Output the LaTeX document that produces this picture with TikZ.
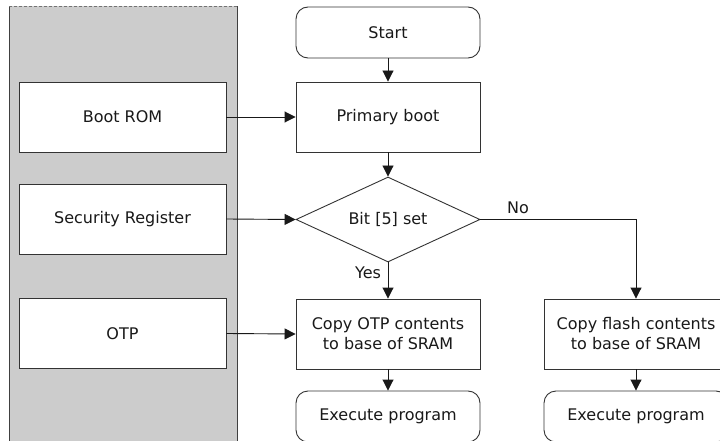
\documentclass[tikz,border=0pt]{standalone}
\usepackage{fontspec}
\setmainfont{DejaVu Sans}
\usetikzlibrary{shapes.geometric,arrows.meta}
\begin{document}
\begin{tikzpicture}[x=1pt,y=-1pt,
  every node/.style={font=\fontsize{16}{20}\selectfont, text=black!90},
  box/.style={draw=black!80, line width=0.9pt, fill=white, minimum width=184pt, minimum height=70pt, inner sep=0pt, align=center},
  srcbox/.style={box, minimum width=207pt},
  term/.style={box, rounded corners=12pt, minimum height=51pt},
  decision/.style={draw=black!80, line width=0.9pt, fill=white, diamond, aspect=2.165, minimum width=184pt, minimum height=85pt, inner sep=0pt},
  conn/.style={draw=black!90, line width=0.9pt, -{Triangle[length=11pt,width=11pt]}},
  lbl/.style={font=\fontsize{16}{20}\selectfont}
]
\useasboundingbox (0,0) rectangle (720,441);
\clip (0,0) rectangle (720,441);
% panel
\fill[black!20] (9,6) rectangle (237,450);
\draw[black!75, line width=0.9pt] (9,450) -- (9,6);
\draw[black!75, line width=0.9pt] (237,450) -- (237,6);
\draw[black!55, line width=0.9pt, dash pattern=on 3pt off 2pt] (9,6) -- (237,6);
% left boxes
\node[srcbox] (bootrom) at (122.5,117) {Boot ROM};
\node[srcbox] (secreg) at (122.5,219) {Security Register};
\node[srcbox] (otp) at (122.5,333.5) {OTP};
% main flow
\node[term] (start) at (388,32.5) {Start};
\node[box] (primary) at (388,117) {Primary boot};
\node[decision] (bit) at (388,219.5) {Bit [5] set};
\node[box] (copyotp) at (388,334) {Copy OTP contents\\to base of SRAM};
\node[term] (exec1) at (388,416.5) {Execute program};
\node[box] (copyflash) at (636,334) {Copy flash contents\\to base of SRAM};
\node[term] (exec2) at (636,416.5) {Execute program};
\coordinate (corner) at (636,219.5);
% connectors
\draw[conn] (start) -- (primary);
\draw[conn] (primary) -- (bit);
\draw[conn] (bit) -- (copyotp);
\draw[conn] (copyotp) -- (exec1);
\draw[conn] (bit.east) -- (corner) -- (copyflash);
\draw[conn] (copyflash) -- (exec2);
\draw[conn] (bootrom.east) -- (primary.west);
\draw[conn] (secreg.east) -- (bit.west);
\draw[conn] (otp.east) -- (copyotp.west);
% labels
\node[lbl] (nolbl) at (518,208) {No};
\node[lbl] (yeslbl) at (368,273) {Yes};
\end{tikzpicture}
\end{document}
